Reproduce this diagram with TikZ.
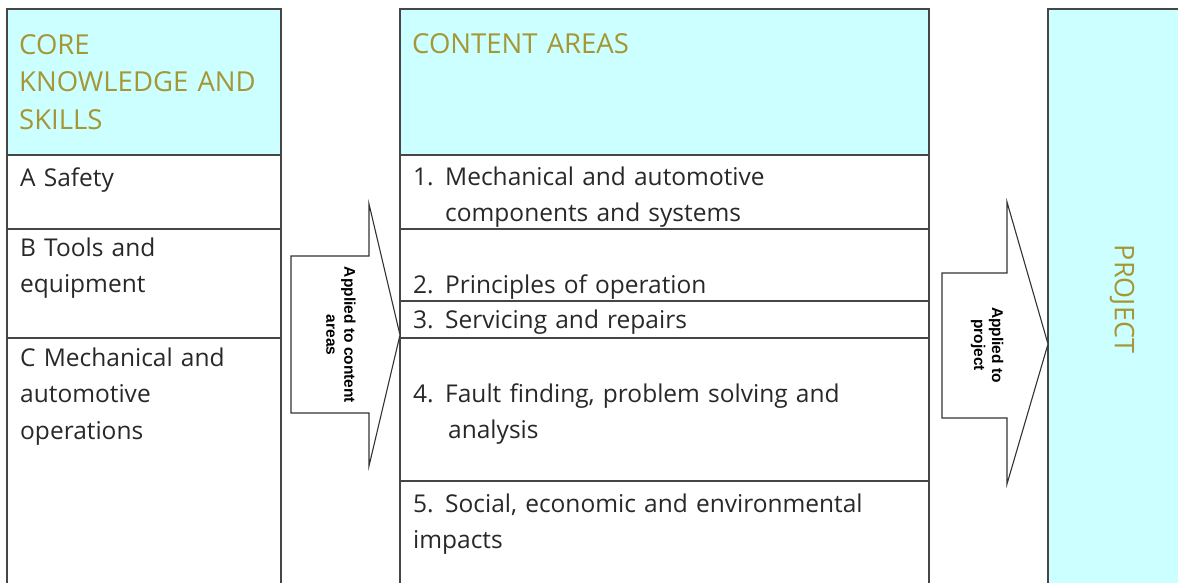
\documentclass[tikz,border=0pt]{standalone}
\usepackage{fontspec}
\setmainfont{Open Sans}
\newfontfamily\arrowfont{Liberation Sans}
\usepackage{tikz}
\usetikzlibrary{calc}
\definecolor{headcyan}{RGB}{204,255,255}
\definecolor{headgold}{RGB}{166,150,52}
\definecolor{rulegrey}{RGB}{70,70,70}
\definecolor{inkgrey}{RGB}{40,40,40}
\newcommand{\cell}[4]{ \draw[boxline] ( #1 , #2 ) rectangle ( #3 , #4 );}
\newcommand{\headcell}[4]{ \draw[boxline,fill=headcyan] ( #1 , #2 ) rectangle ( #3 , #4 );}
\newcommand{\num}[1]{\makebox[32pt][l]{#1}}
\tikzset{
  boxline/.style={draw=rulegrey, line width=1.6pt},
  arrowline/.style={draw=black!80, line width=1.1pt, fill=white},
  itemtxt/.style={anchor=base west, inner sep=0pt, text width=520pt, align=left,
    text=inkgrey, font=\fontsize{24.5}{36.5}\selectfont},
  headtxt/.style={itemtxt, text=headgold, font=\fontsize{27.5}{37.5}\selectfont},
  arrowtxt/.style={rotate=-90, inner sep=0pt, align=center,
    font=\arrowfont\bfseries\fontsize{15.5}{18}\selectfont}
}

\begin{document}
\begin{tikzpicture}[x=1pt,y=-1pt]
\useasboundingbox (0,0) rectangle (1178,582);
\clip (0,0) rectangle (1178,582);
% core knowledge column
\headcell{7}{9}{281}{155}
\cell{7}{155}{281}{229}
\cell{7}{229}{281}{338}
\cell{7}{338}{281}{600}
% content areas column
\headcell{400}{9}{929}{155}
\cell{400}{155}{929}{229}
\cell{400}{229}{929}{301}
\cell{400}{301}{929}{338}
\cell{400}{338}{929}{481}
\cell{400}{481}{929}{600}
% project column
\headcell{1048}{9}{1200}{600}
% core knowledge labels
\node[headtxt] (core) at (19,54) {CORE\\KNOWLEDGE AND\\SKILLS};
\node[itemtxt] (safety) at (20,186) {A Safety};
\node[itemtxt] (tools) at (20,256) {B Tools and\\equipment};
\node[itemtxt] (mechops) at (20,366) {C Mechanical and\\automotive\\operations};
% content area labels
\node[headtxt] (content) at (412,53) {CONTENT AREAS};
\node[itemtxt] (areaone) at (413,185) {\num{1.}Mechanical and automotive\\\hspace*{32pt}components and systems};
\node[itemtxt] (areatwo) at (413,293) {\num{2.}Principles of operation};
\node[itemtxt] (areathree) at (413,328) {\num{3.}Servicing and repairs};
\node[itemtxt] (areafour) at (413,402) {\num{4.}Fault finding, problem solving and\\\hspace*{35pt}analysis};
\node[itemtxt] (areafive) at (413,512) {\num{5.}Social, economic and environmental\\impacts};
% project label
\node[rotate=-90, inner sep=0pt, text=headgold, font=\fontsize{27}{30}\selectfont] (project) at (1122,299) {PROJECT};
% arrow 1
\coordinate (tipone) at (400,335);
\draw[arrowline] (291,256) -- (369,256) -- (369,204) -- (tipone) -- (369,466) -- (369,413) -- (291,413) -- cycle;
\node[arrowtxt] (applyone) at (341,335) {Applied to content\\areas};
% arrow 2
\coordinate (tiptwo) at (1048,344);
\draw[arrowline] (942,273) -- (1007,273) -- (1007,202) -- (tiptwo) -- (1007,484) -- (1007,418) -- (942,418) -- cycle;
\node[arrowtxt] (applytwo) at (987,345) {Applied to\\project};
\end{tikzpicture}
\end{document}
